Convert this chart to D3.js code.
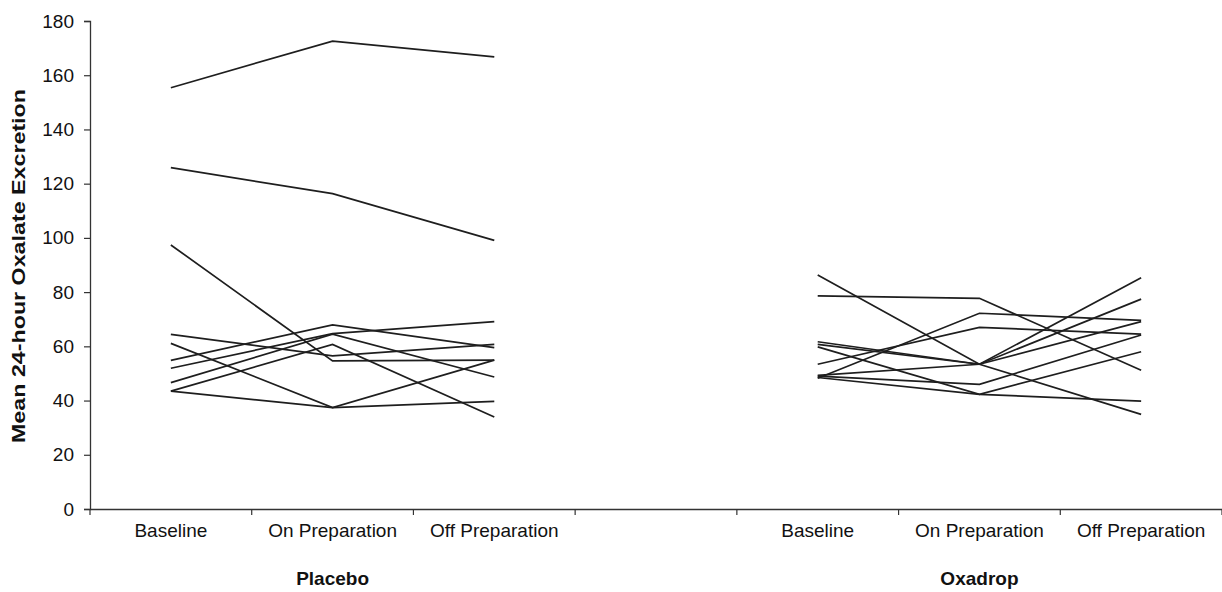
<!DOCTYPE html>
<meta charset="utf-8">
<style>
  body { margin: 0; background: #fff; }
  text { font-family: "Liberation Sans", Arial, sans-serif; }
</style>
<script src="https://d3js.org/d3.v7.min.js"></script>
<div id="chart"></div>
<script>

// periods shown under each group, a blank slot separates the two groups
var periods = ["Baseline", "On Preparation", "Off Preparation"];
var groups  = ["Placebo", "Oxadrop"];
var yTicks  = [0, 20, 40, 60, 80, 100, 120, 140, 160, 180];

// one row per patient: baseline, on preparation, off preparation
var placebo = [
  [155.4, 172.6, 166.8],
  [125.9, 116.3, 99.1],
  [97.4, 54.6, 54.9],
  [64.4, 56.5, 60.7],
  [61.1, 37.4, 54.9],
  [43.5, 37.4, 39.7],
  [54.8, 67.9, 59.5],
  [51.9, 64.7, 69.1],
  [46.6, 64.5, 48.7],
  [43.5, 60.7, 33.9]
];

var oxadrop = [
  [86.3, 53.4, 34.9],
  [78.6, 77.7, 51.2],
  [48.2, 72.2, 69.6],
  [53.4, 67.0, 64.5],
  [61.7, 53.4, 85.3],
  [60.7, 53.4, 77.4],
  [49.3, 53.4, 69.1],
  [49.0, 46.0, 64.2],
  [59.8, 42.3, 58.0],
  [48.5, 42.3, 39.8]
];

var width = 1222, height = 592;
var mLeft = 90, mRight = 1222, mTop = 21, mBottom = 509;
var fontSize = 19;

var svg = d3.select("#chart").append("svg")
  .attr("width", width)
  .attr("height", height);

// 7 slots: 3 placebo, blank, 3 oxadrop
var slotLabels = periods.concat([""]).concat(periods);
var x = d3.scaleBand().domain(d3.range(slotLabels.length)).range([mLeft, mRight]);
var y = d3.scaleLinear().domain([0, 180]).range([mBottom, mTop]);

// y axis
var yAxis = svg.append("g")
  .attr("transform", "translate(" + mLeft + ",0)")
  .call(d3.axisLeft(y).tickValues(yTicks).tickSize(6).tickPadding(10));
yAxis.select(".domain").attr("stroke", "#333").attr("stroke-width", 1.3);
yAxis.selectAll(".tick line").attr("stroke", "#333").attr("stroke-width", 1.2);
yAxis.selectAll(".tick text").attr("font-size", fontSize).attr("fill", "#111")
  .style("font-family", "'Liberation Sans', Arial, sans-serif");

// x axis (labels centred in slots, ticks on slot boundaries)
var xAxis = svg.append("g")
  .attr("transform", "translate(0," + mBottom + ")")
  .call(d3.axisBottom(x).tickSize(0).tickPadding(15)
    .tickFormat(function(i) { return slotLabels[i]; }));
xAxis.select(".domain").attr("stroke", "#333").attr("stroke-width", 1.3);
xAxis.selectAll(".tick text").attr("font-size", fontSize).attr("fill", "#111")
  .style("font-family", "'Liberation Sans', Arial, sans-serif");

svg.append("g").selectAll("line")
  .data(d3.range(slotLabels.length + 1))
  .enter().append("line")
  .attr("x1", function(i) { return mLeft + i * x.step(); })
  .attr("x2", function(i) { return mLeft + i * x.step(); })
  .attr("y1", mBottom)
  .attr("y2", mBottom + 6)
  .attr("stroke", "#333")
  .attr("stroke-width", 1.2);

// group labels
svg.selectAll(".group")
  .data(groups)
  .enter().append("text")
  .attr("x", function(d, i) { return x(i * 4 + 1) + x.bandwidth() / 2; })
  .attr("y", 585)
  .attr("text-anchor", "middle")
  .attr("font-size", fontSize)
  .attr("font-weight", "bold")
  .attr("fill", "#111")
  .text(function(d) { return d; });

// y axis title (stretched a bit, as in the original)
svg.append("text")
  .attr("transform", "translate(25,266) rotate(-90)")
  .attr("text-anchor", "middle")
  .attr("font-size", fontSize)
  .attr("font-weight", "bold")
  .attr("fill", "#111")
  .attr("textLength", 354)
  .attr("lengthAdjust", "spacingAndGlyphs")
  .text("Mean 24-hour Oxalate Excretion");

// patient lines
function drawGroup(rows, offset) {
  var line = d3.line()
    .x(function(v, i) { return x(offset + i) + x.bandwidth() / 2; })
    .y(function(v) { return y(v); });
  svg.append("g").selectAll("path")
    .data(rows)
    .enter().append("path")
    .attr("d", line)
    .attr("fill", "none")
    .attr("stroke", "#1e1e1e")
    .attr("stroke-width", 1.7);
}
drawGroup(placebo, 0);
drawGroup(oxadrop, 4);

</script>
